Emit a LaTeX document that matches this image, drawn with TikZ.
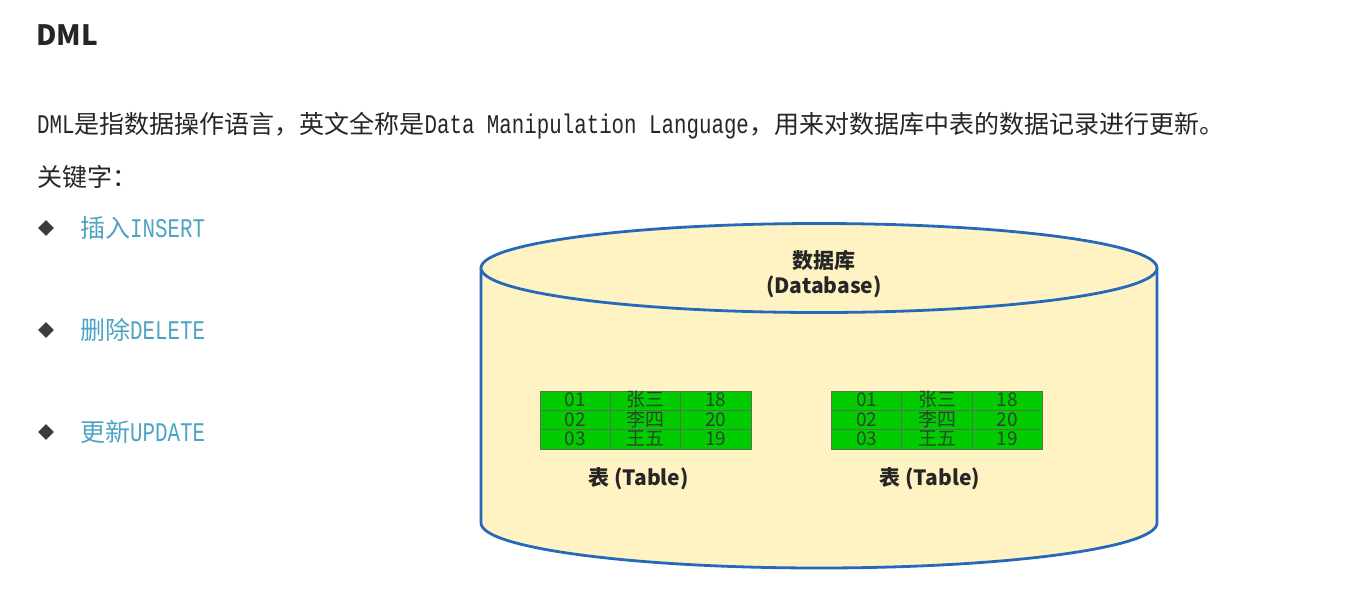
\documentclass[tikz,border=0pt]{standalone}
\usepackage{fontspec}
\usepackage{tikz}
\usetikzlibrary{calc,matrix,shapes.geometric,positioning}
\setmainfont{Noto Sans}
\newfontfamily\cjk{Noto Sans CJK SC}
\newfontfamily\mono[Scale=1.08,FakeStretch=0.77]{Liberation Mono}
\definecolor{bodytext}{RGB}{38,38,38}
\definecolor{keyblue}{RGB}{78,163,196}
\definecolor{dbline}{RGB}{38,104,186}
\definecolor{dbyellow}{RGB}{255,243,196}
\definecolor{cellgreen}{RGB}{0,204,0}
\definecolor{cellline}{RGB}{88,112,88}
\definecolor{celltext}{RGB}{40,72,40}
\tikzset{
  txt/.style={anchor=west,inner sep=0pt,text=bodytext,font=\cjk\fontsize{25}{30}\selectfont},
  key/.style={txt,text=keyblue},
  cell/.style={draw=cellline,fill=cellgreen,minimum width=70.7pt,text height=14.5pt,text depth=2.5pt,
    inner xsep=0pt,inner ysep=1.25pt,text=celltext,font=\cjk\fontsize{19}{19}\selectfont},
  dbtext/.style={inner sep=0pt,text=bodytext,align=center,font=\cjk\bfseries\fontsize{21}{25}\selectfont}
}
\begin{document}
\begin{tikzpicture}[x=1pt,y=-1pt]
\useasboundingbox (0,0) rectangle (1361,598);
\node[anchor=west,inner sep=0pt,text=bodytext,font=\cjk\bfseries\fontsize{28}{30}\selectfont] (title) at (36,35) {DML};
\node[txt] (desc) at (37,126) {{\mono DML}是指数据操作语言，英文全称是{\mono Data Manipulation Language}，用来对数据库中表的数据记录进行更新。};
\node[txt] (keys) at (37,177) {关键字：};
\foreach \y/\c/\e [count=\i] in {228/插入/INSERT,330/删除/DELETE,432/更新/UPDATE}{
  \node[diamond,fill=bodytext!90,inner sep=0pt,minimum size=16pt] (b\i) at (46,\y) {};
  \node[key] (k\i) at (80,\y) {\c{\mono\e}};
}
% database
\fill[dbyellow] (481,268) rectangle (1157,523);
\fill[dbyellow] (819,523) ellipse [x radius=338pt,y radius=45pt];
\draw[dbline,line width=2.8pt] (481,268) -- (481,523) arc[start angle=180,end angle=360,x radius=338pt,y radius=45pt] -- (1157,268);
\draw[dbline,line width=2.8pt,fill=dbyellow] (819,268) ellipse [x radius=338pt,y radius=44.5pt];
\node[dbtext] (dbname) at (824,274) {数据库\\(Database)};
\foreach \x/\n in {645.5/tabA,937/tabB}{
  \matrix (\n) [matrix of nodes,ampersand replacement=\&,nodes={cell},
    column sep=-0.8pt,row sep=-0.8pt] at (\x,420) {
    01 \& 张三 \& 18 \\
    02 \& 李四 \& 20 \\
    03 \& 王五 \& 19 \\
  };
  \node[dbtext] (\n-label) at ($(\x,479)+(-7,0)$) {表\ (Table)};
}
\end{tikzpicture}
\end{document}
